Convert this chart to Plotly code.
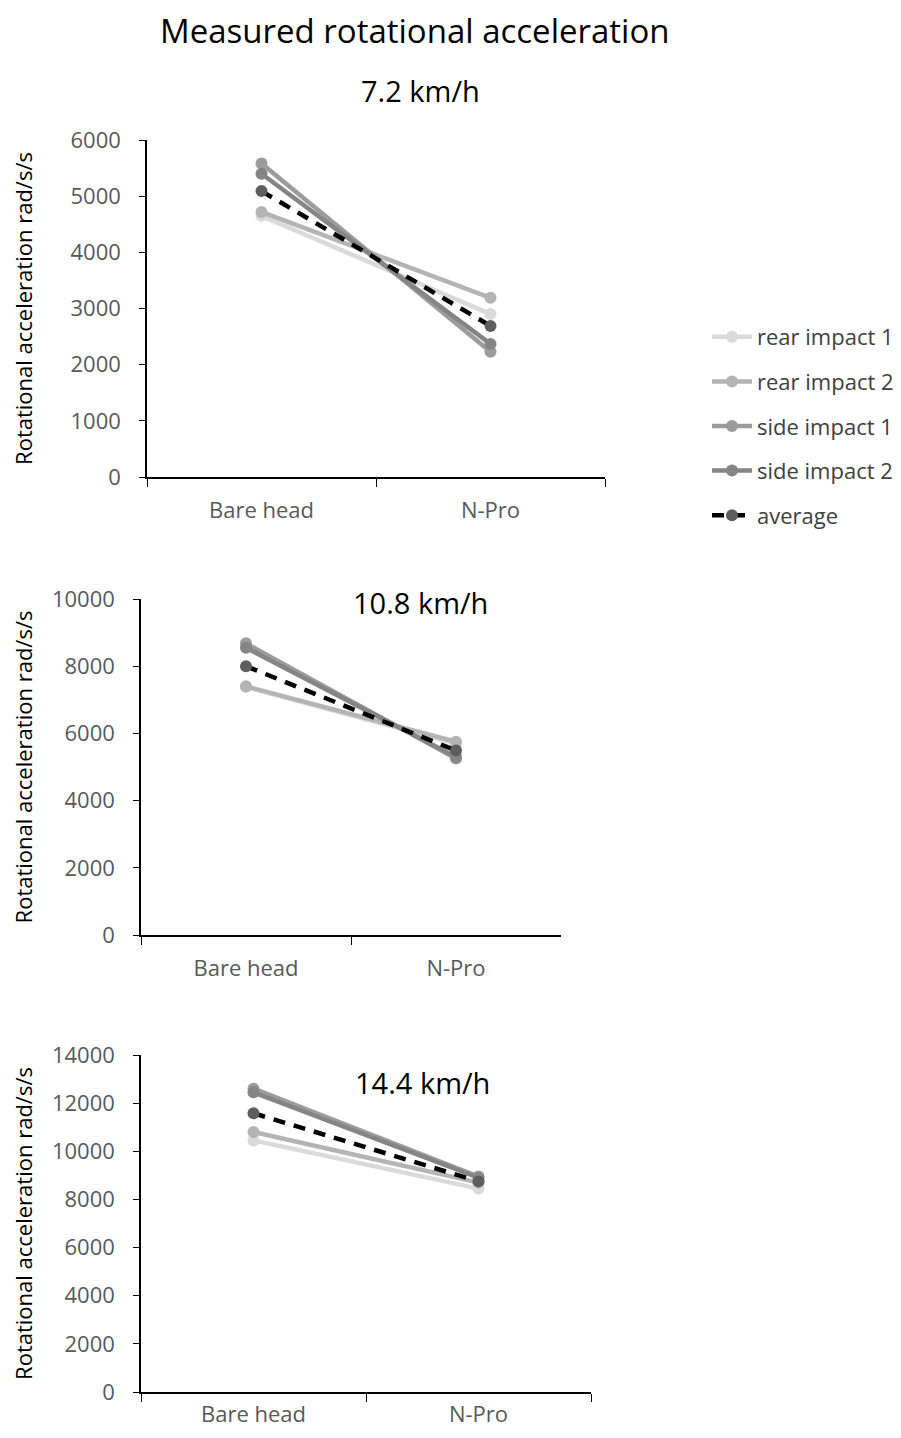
import plotly.graph_objects as go

categories = ["Bare head", "N-Pro"]
series_names = ["rear impact 1", "rear impact 2", "side impact 1", "side impact 2", "average"]

# values per speed: [Bare head, N-Pro]
speed_titles = ["7.2 km/h", "10.8 km/h", "14.4 km/h"]
v72 = {
    "rear impact 1": [4650, 2900],
    "rear impact 2": [4720, 3190],
    "side impact 1": [5580, 2230],
    "side impact 2": [5400, 2370],
    "average": [5090, 2690],
}
v108 = {
    "rear impact 1": [7380, 5700],
    "rear impact 2": [7400, 5750],
    "side impact 1": [8680, 5250],
    "side impact 2": [8550, 5300],
    "average": [8000, 5490],
}
v144 = {
    "rear impact 1": [10450, 8450],
    "rear impact 2": [10800, 8700],
    "side impact 1": [12600, 8950],
    "side impact 2": [12450, 8900],
    "average": [11580, 8750],
}
y_max = [6000, 10000, 14000]
y_dtick = [1000, 2000, 2000]

# page has an 8px body margin; work in page pixels and convert
OFF = 8
W, H = 901 - 2 * OFF, 1438 - 2 * OFF


def px(x):
    return (x - OFF) / W


def py(y):
    return 1 - (y - OFF) / H


FONT = "Open Sans"
line_colors = {
    "rear impact 1": "#dadada",
    "rear impact 2": "#b4b4b4",
    "side impact 1": "#9c9c9c",
    "side impact 2": "#858585",
    "average": "#000000",
}
marker_colors = {
    "rear impact 1": "#dadada",
    "rear impact 2": "#b4b4b4",
    "side impact 1": "#9c9c9c",
    "side impact 2": "#858585",
    "average": "#5e5e5e",
}

# plot boxes in page pixels: (x0, x1, ytop, ybottom)
boxes = [(147, 605, 140, 477), (141, 561, 599, 935), (141, 591, 1055, 1392)]
title_standoff = [34, 16, 16]
xlabel_standoff = [13, 13, 2]

fig = go.Figure()
datasets = [v72, v108, v144]
for i, data in enumerate(datasets):
    ax = "" if i == 0 else str(i + 1)
    for name in series_names:
        is_avg = name == "average"
        fig.add_trace(go.Scatter(
            x=categories, y=data[name], name=name, mode="lines+markers",
            xaxis="x" + ax, yaxis="y" + ax,
            line=dict(color=line_colors[name], width=4.5, dash="12px,9px" if is_avg else "solid"),
            marker=dict(color=marker_colors[name], size=12),
            showlegend=(i == 0), legendgroup=name,
        ))

layout = dict(
    template="none",
    width=W, height=H, paper_bgcolor="white", plot_bgcolor="white",
    margin=dict(l=0, r=0, t=0, b=0, autoexpand=False),
    font=dict(family=FONT, color="#595959", size=22),
    showlegend=True,
    legend=dict(x=px(707), y=py(316), xanchor="left", yanchor="top",
                traceorder="grouped", tracegroupgap=13,
                font=dict(size=22, color="#404040"), itemwidth=40,
                bgcolor="rgba(0,0,0,0)", borderwidth=0),
    annotations=[
        dict(text="Measured rotational acceleration", x=px(415), y=py(31),
             xref="paper", yref="paper", showarrow=False,
             xanchor="center", yanchor="middle",
             font=dict(size=33, color="#000000", family=FONT)),
    ],
)
sub_pos = [(420, 90), (420, 602), (422, 1082)]
for i, (x0, x1, yt, yb) in enumerate(boxes):
    ax = "" if i == 0 else str(i + 1)
    layout["xaxis" + ax] = dict(
        domain=[px(x0), px(x1)], anchor="y" + ax, type="category",
        range=[-0.5, 1.5], tickson="boundaries", ticks="outside", ticklen=8,
        tickcolor="#000", linecolor="#000", linewidth=1.5, showline=True,
        showgrid=False, zeroline=False, ticklabelstandoff=xlabel_standoff[i],
        automargin=False, tickfont=dict(size=22, color="#595959"),
    )
    layout["yaxis" + ax] = dict(
        domain=[py(yb), py(yt)], anchor="x" + ax,
        range=[0, y_max[i]], dtick=y_dtick[i], tickformat="d",
        ticks="outside", ticklen=6,
        tickcolor="#000", linecolor="#000", linewidth=1.5, showline=True,
        showgrid=False, zeroline=False, ticklabelstandoff=14, automargin=False,
        tickfont=dict(size=22, color="#595959"),
        title=dict(text="Rotational acceleration rad/s/s", standoff=title_standoff[i],
                   font=dict(size=22, color="#000000")),
    )
    sx, sy = sub_pos[i]
    layout["annotations"].append(dict(
        text=speed_titles[i], x=px(sx), y=py(sy), xref="paper", yref="paper",
        showarrow=False, xanchor="center", yanchor="middle",
        font=dict(size=29, color="#000000", family=FONT)))

fig.update_layout(**layout)
fig.write_html("out.html")
